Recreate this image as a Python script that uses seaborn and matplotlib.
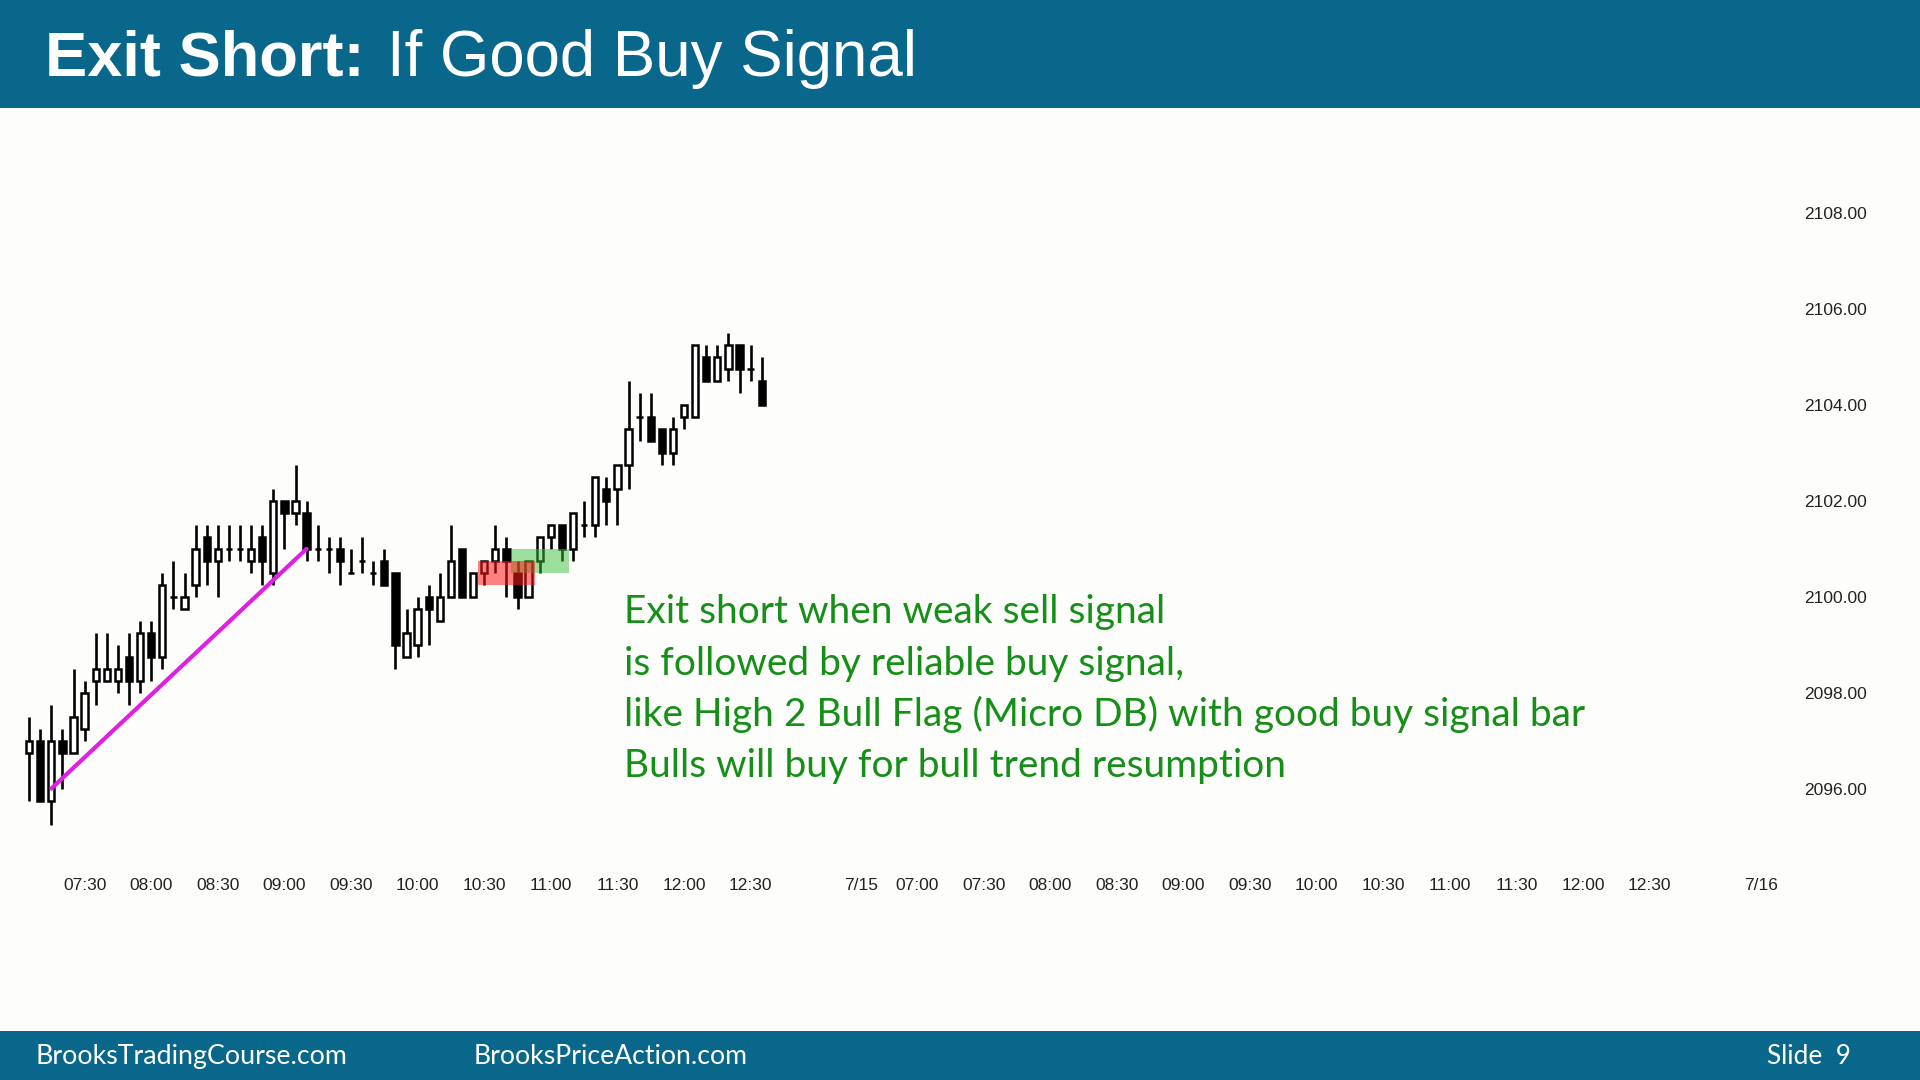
import numpy as np
import pandas as pd
import matplotlib
matplotlib.use("Agg")
import matplotlib.pyplot as plt
from matplotlib.patches import Rectangle
import seaborn as sns

# ---------------- data ----------------
opens = [2096.75, 2097.0, 2095.75, 2097.0, 2096.75, 2097.25, 2098.25, 2098.25, 2098.25, 2098.75,
         2098.25, 2099.25, 2098.75, 2100.0, 2099.75, 2100.25, 2101.25, 2100.75, 2101.0, 2101.0,
         2100.75, 2101.25, 2100.5, 2102.0, 2101.75, 2101.75, 2101.0, 2101.0, 2101.0, 2100.5,
         2100.75, 2100.5, 2100.75, 2100.5, 2098.75, 2099.0, 2100.0, 2099.5, 2100.0, 2101.0,
         2100.0, 2100.5, 2100.75, 2101.0, 2100.5, 2100.0, 2100.75, 2101.25, 2101.5, 2101.0,
         2101.5, 2101.5, 2102.25, 2102.25, 2102.75, 2103.75, 2103.75, 2103.5, 2103.0, 2103.75,
         2103.75, 2105.0, 2104.5, 2104.75, 2105.25, 2104.75, 2104.5]
highs = [2097.5, 2097.25, 2097.75, 2097.25, 2098.5, 2098.25, 2099.25, 2099.25, 2099.0, 2099.25,
         2099.5, 2099.5, 2100.5, 2100.75, 2100.5, 2101.5, 2101.5, 2101.5, 2101.5, 2101.5,
         2101.5, 2101.5, 2102.25, 2102.0, 2102.75, 2102.0, 2101.5, 2101.25, 2101.25, 2101.0,
         2101.25, 2100.75, 2101.0, 2100.5, 2099.75, 2100.0, 2100.25, 2100.5, 2101.5, 2101.0,
         2100.5, 2100.75, 2101.5, 2101.25, 2100.75, 2100.75, 2101.25, 2101.5, 2101.5, 2101.75,
         2102.0, 2102.5, 2102.5, 2102.75, 2104.5, 2104.25, 2104.25, 2103.5, 2103.75, 2104.0,
         2105.25, 2105.25, 2105.25, 2105.5, 2105.25, 2105.25, 2105.0]
lows = [2095.75, 2095.75, 2095.25, 2096.0, 2096.75, 2097.0, 2097.75, 2098.25, 2098.0, 2097.75,
        2098.0, 2098.25, 2098.5, 2099.75, 2099.75, 2100.0, 2100.25, 2100.0, 2100.75, 2100.75,
        2100.5, 2100.25, 2100.25, 2101.0, 2101.5, 2100.75, 2100.75, 2100.5, 2100.25, 2100.5,
        2100.5, 2100.25, 2100.25, 2098.5, 2098.75, 2098.75, 2099.0, 2099.5, 2100.0, 2100.0,
        2100.0, 2100.25, 2100.5, 2100.0, 2099.75, 2100.0, 2100.5, 2101.0, 2100.75, 2100.75,
        2101.25, 2101.25, 2101.5, 2101.5, 2102.25, 2103.25, 2103.25, 2102.75, 2102.75, 2103.5,
        2103.75, 2104.5, 2104.5, 2104.5, 2104.25, 2104.5, 2104.0]
closes = [2097.0, 2095.75, 2097.0, 2096.75, 2097.5, 2098.0, 2098.5, 2098.5, 2098.5, 2098.25,
          2099.25, 2098.75, 2100.25, 2100.0, 2100.0, 2101.0, 2100.75, 2101.0, 2101.0, 2101.0,
          2101.0, 2100.75, 2102.0, 2101.75, 2102.0, 2101.0, 2101.0, 2101.0, 2100.75, 2100.5,
          2100.75, 2100.5, 2100.25, 2099.0, 2099.25, 2099.75, 2099.75, 2100.0, 2100.75, 2100.0,
          2100.5, 2100.75, 2101.0, 2100.75, 2100.0, 2100.75, 2101.25, 2101.5, 2101.0, 2101.75,
          2101.5, 2102.5, 2102.0, 2102.75, 2103.5, 2103.75, 2103.25, 2103.0, 2103.5, 2104.0,
          2105.25, 2104.5, 2105.0, 2105.25, 2104.75, 2104.75, 2104.0]

price_ticks = [2096, 2098, 2100, 2102, 2104, 2106, 2108]
x_tick_labels = ["07:30", "08:00", "08:30", "09:00", "09:30", "10:00", "10:30", "11:00",
                 "11:30", "12:00", "12:30", "7/15", "07:00", "07:30", "08:00", "08:30",
                 "09:00", "09:30", "10:00", "10:30", "11:00", "11:30", "12:00", "12:30", "7/16"]

# trend line (bar number, price) and signal zones (first bar, last bar, low, high)
trend_bars = [3, 26]
trend_prices = [2096.0, 2101.0]
sell_zone = [42, 46, 2100.25, 2100.75]
buy_zone = [45, 49, 2100.5, 2101.0]

title_bold = "Exit Short:"
title_rest = "If Good Buy Signal"
note_lines = ["Exit short when weak sell signal",
              "is followed by reliable buy signal,",
              "like High 2 Bull Flag (Micro DB) with good buy signal bar",
              "Bulls will buy for bull trend resumption"]
footer_left = "BrooksTradingCourse.com"
footer_mid = "BrooksPriceAction.com"
footer_right = "Slide  9"

# ---------------- timeline (5-min bars, PT sessions) ----------------
day1 = pd.date_range("2015-07-14 07:05", "2015-07-14 13:15", freq="5min")
day2 = pd.date_range("2015-07-15 06:35", "2015-07-15 13:15", freq="5min")
day3 = pd.date_range("2015-07-16 06:35", periods=1, freq="5min")
timeline = day1.append(day2).append(day3)
bars = pd.DataFrame({"time": timeline[:len(opens)], "open": opens, "high": highs,
                     "low": lows, "close": closes})
bars["pos"] = np.arange(len(bars))

# tick positions from the timeline
days = [timeline[timeline.normalize() == d] for d in timeline.normalize().unique()]
offsets = np.cumsum([0] + [len(d) for d in days])
tick_pos = []
cur_day = 0
for lab in x_tick_labels:
    if "/" in lab:
        cur_day += 1
        tick_pos.append(offsets[cur_day])
    else:
        hh, mm = map(int, lab.split(":"))
        d = days[cur_day]
        k = np.where((d.hour == hh) & (d.minute == mm))[0][0]
        tick_pos.append(offsets[cur_day] + k)

# ---------------- style ----------------
sns.set_theme(style="white")
plt.rcParams["font.family"] = ["Liberation Sans", "DejaVu Sans"]

W, H = 1920, 1080
BG = "#fdfdfb"
BAND = "#08678a"
GREEN_TXT = "#168f18"

fig = plt.figure(figsize=(W / 100, H / 100), dpi=100, facecolor=BG)

def fy(px):
    return 1 - px / H

# header / footer bands
fig.patches.append(Rectangle((0, fy(108)), 1, 108 / H, transform=fig.transFigure,
                             facecolor=BAND, edgecolor="none", zorder=0))
fig.patches.append(Rectangle((0, 0), 1, 49 / H, transform=fig.transFigure,
                             facecolor=BAND, edgecolor="none", zorder=0))

# ---------------- chart axes ----------------
ax_l, ax_r, ax_t, ax_b = 18, 1790, 130, 860
ax = fig.add_axes([ax_l / W, fy(ax_b), (ax_r - ax_l) / W, (ax_b - ax_t) / H])
ax.set_facecolor(BG)
bar_px = 11.1
ax.set_xlim(-1, -1 + (ax_r - ax_l) / bar_px)
px_per_pt = 47.96
ax.set_ylim(2108 - (ax_b - 213.1) / px_per_pt, 2108 + (213.1 - ax_t) / px_per_pt)

up = bars["close"] >= bars["open"]
ax.vlines(bars["pos"], bars["low"], bars["high"], color="black", linewidth=1.9, zorder=2)
body_bottom = np.minimum(bars["open"], bars["close"])
body_h = (bars["close"] - bars["open"]).abs()
ax.bar(bars["pos"], body_h, bottom=body_bottom, width=0.56,
       color=np.where(up, "white", "black"), edgecolor="black", linewidth=1.8, zorder=3)

# signal zones
for zone, col, alpha in [(buy_zone, "#3cc03c", 0.5), (sell_zone, "#ff1a1a", 0.55)]:
    b0, b1, lo, hi = zone
    ax.add_patch(Rectangle((b0 - 1 - 0.6, lo), (b1 - b0) + 1.2, hi - lo,
                           facecolor=col, edgecolor="none", alpha=alpha, zorder=4))

# trend line
trend = pd.DataFrame({"pos": np.array(trend_bars) - 1, "price": trend_prices})
sns.lineplot(data=trend, x="pos", y="price", color="#e020e0", linewidth=3.0, ax=ax, zorder=5)

ax.set_xlabel("")
ax.set_ylabel("")
for s in ax.spines.values():
    s.set_visible(False)
ax.grid(False)
ax.yaxis.tick_right()
ax.set_yticks(price_ticks)
ax.set_yticklabels([f"{p:.2f}" for p in price_ticks])
ax.set_xticks(tick_pos)
ax.set_xticklabels(x_tick_labels)
ax.tick_params(axis="y", length=0, pad=10, labelsize=12.5, labelcolor="#222222")
ax.tick_params(axis="x", length=0, pad=13, labelsize=12.5, labelcolor="#222222")
for lab in ax.get_yticklabels():
    lab.set_horizontalalignment("left")

# ---------------- texts ----------------
fig.canvas.draw()
renderer = fig.canvas.get_renderer()

def fit(txt, target_w):
    w = txt.get_window_extent(renderer).width
    txt.set_fontsize(txt.get_fontsize() * target_w / w)

t1 = fig.text(45 / W, fy(76), title_bold, color="white", fontsize=45, fontweight="bold",
              family=["Liberation Sans"], va="baseline", ha="left")
fit(t1, 320)
t2 = fig.text(387 / W, fy(76), title_rest, color="white", fontsize=45,
              family=["Liberation Sans"], va="baseline", ha="left")
fit(t2, 530)

note_texts = []
base = 623
for i, line in enumerate(note_lines):
    t = fig.text(624.5 / W, fy(base + i * 51.5), line, color=GREEN_TXT, fontsize=24,
                 family=["Lato", "DejaVu Sans"], va="baseline", ha="left")
    note_texts.append(t)
w3 = note_texts[2].get_window_extent(renderer).width
scale = 960 / w3
for t in note_texts:
    t.set_fontsize(24 * scale)

f1 = fig.text(35.5 / W, fy(1064), footer_left, color="white", fontsize=20,
              family=["Lato", "DejaVu Sans"], va="baseline", ha="left")
fit(f1, 311)
f2 = fig.text(474 / W, fy(1064), footer_mid, color="white", fontsize=20,
              family=["Lato", "DejaVu Sans"], va="baseline", ha="left")
fit(f2, 274)
f3 = fig.text(1767 / W, fy(1064), footer_right, color="white", fontsize=20,
              family=["Lato", "DejaVu Sans"], va="baseline", ha="left")
fit(f3, 84)

fig.savefig("out.png", dpi=100, facecolor=BG)
